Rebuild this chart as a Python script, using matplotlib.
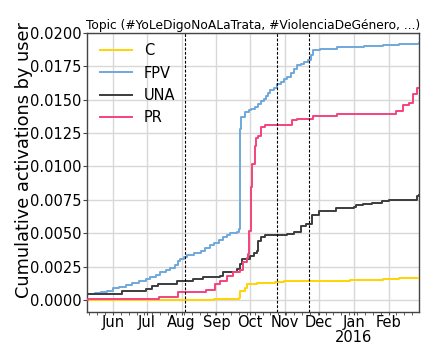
import matplotlib
matplotlib.use("Agg")
import matplotlib.pyplot as plt
import matplotlib.dates as mdates
import matplotlib.ticker as mticker
import pandas as pd

# ---- data ----
series_names = ["C", "FPV", "UNA", "PR"]
series_colors = ["#FFD400", "#6FA8DC", "#3C3C3C", "#F4437B"]

c_dates = ["2015-05-09", "2015-07-31", "2015-08-30", "2015-09-02", "2015-09-21", "2015-09-22",
           "2015-09-26", "2015-09-28", "2015-10-07", "2015-10-12", "2015-10-23", "2015-10-31",
           "2015-11-22", "2015-12-29", "2016-01-27", "2016-02-10", "2016-02-28"]
c_vals = [0.0, 0.00003, 0.00005, 0.0001, 0.00015, 0.0007,
          0.00088, 0.0012, 0.00125, 0.0013, 0.00137, 0.00142,
          0.00145, 0.00148, 0.00156, 0.00162, 0.00167]

fpv_dates = ["2015-05-09", "2015-05-16", "2015-05-21", "2015-05-27", "2015-06-01", "2015-06-06",
             "2015-06-13", "2015-06-18", "2015-06-24", "2015-06-30", "2015-07-04", "2015-07-09",
             "2015-07-13", "2015-07-18", "2015-07-22", "2015-07-26", "2015-07-29", "2015-07-31",
             "2015-08-03", "2015-08-06", "2015-08-12", "2015-08-18", "2015-08-22", "2015-08-26",
             "2015-08-30", "2015-09-03", "2015-09-07", "2015-09-10", "2015-09-13", "2015-09-19",
             "2015-09-21", "2015-09-22", "2015-09-23", "2015-09-26", "2015-09-30", "2015-10-02",
             "2015-10-05", "2015-10-08", "2015-10-11", "2015-10-13", "2015-10-15", "2015-10-17",
             "2015-10-19", "2015-10-22", "2015-10-25", "2015-10-28", "2015-10-31", "2015-11-03",
             "2015-11-06", "2015-11-09", "2015-11-12", "2015-11-15", "2015-11-18", "2015-11-21",
             "2015-11-24", "2015-11-26", "2015-12-02", "2015-12-17", "2015-12-29", "2016-01-10",
             "2016-01-27", "2016-02-10", "2016-02-28"]
fpv_vals = [0.00045, 0.0005, 0.00057, 0.0007, 0.0009, 0.001,
            0.00115, 0.00125, 0.0014, 0.0016, 0.00172, 0.0019,
            0.0021, 0.00225, 0.0024, 0.0026, 0.0029, 0.0031,
            0.0032, 0.00335, 0.0035, 0.0037, 0.0039, 0.0041,
            0.0043, 0.0045, 0.0047, 0.0049, 0.0050, 0.00507,
            0.00535, 0.0128, 0.0137, 0.01405, 0.0142, 0.01427,
            0.01445, 0.01465, 0.0149, 0.01508, 0.0153, 0.01547,
            0.0157, 0.0159, 0.0162, 0.01635, 0.01652, 0.0167,
            0.0170, 0.0173, 0.0176, 0.0177, 0.0178, 0.01795,
            0.01832, 0.0187, 0.01882, 0.01892, 0.01895, 0.019,
            0.01907, 0.01915, 0.01925]

una_dates = ["2015-05-09", "2015-06-09", "2015-06-30", "2015-07-06", "2015-07-11", "2015-07-28",
             "2015-08-11", "2015-08-20", "2015-09-04", "2015-09-07", "2015-09-19", "2015-09-22",
             "2015-09-24", "2015-10-01", "2015-10-04", "2015-10-07", "2015-10-08", "2015-10-11",
             "2015-10-14", "2015-11-03", "2015-11-09", "2015-11-15", "2015-11-20", "2015-11-23",
             "2015-11-25", "2015-12-01", "2015-12-14", "2015-12-16", "2016-01-01", "2016-01-03",
             "2016-01-09", "2016-01-17", "2016-01-26", "2016-02-01", "2016-02-26", "2016-02-28"]
una_vals = [0.00045, 0.00065, 0.00083, 0.00107, 0.00122, 0.00145,
            0.00155, 0.0017, 0.00182, 0.00207, 0.00232, 0.0027,
            0.00307, 0.00332, 0.00355, 0.0037, 0.00445, 0.0047,
            0.0049, 0.00495, 0.00507, 0.00557, 0.00567, 0.00572,
            0.0064, 0.00665, 0.0067, 0.0069, 0.00695, 0.00712,
            0.00718, 0.00727, 0.0074, 0.0075, 0.00782, 0.0079]

pr_dates = ["2015-05-09", "2015-05-10", "2015-07-12", "2015-07-29", "2015-08-23", "2015-08-31",
            "2015-09-04", "2015-09-10", "2015-09-16", "2015-09-22", "2015-09-25", "2015-09-28",
            "2015-09-29", "2015-09-30", "2015-10-02", "2015-10-03", "2015-10-05", "2015-10-06",
            "2015-10-08", "2015-10-11", "2015-10-14", "2015-11-07", "2015-11-12", "2015-11-26",
            "2015-12-17", "2016-02-08", "2016-02-14", "2016-02-19", "2016-02-23", "2016-02-26",
            "2016-02-28"]
pr_vals = [0.0, 0.0001, 0.00025, 0.0006, 0.00079, 0.0012,
           0.00145, 0.00182, 0.00207, 0.00227, 0.00282, 0.00317,
           0.00347, 0.0052, 0.00845, 0.0102, 0.01157, 0.01217,
           0.01225, 0.01295, 0.01312, 0.01345, 0.01357, 0.01375,
           0.01395, 0.01415, 0.01457, 0.01475, 0.01545, 0.01585,
           0.01585]

event_dates = ["2015-08-04", "2015-10-25", "2015-11-22"]

title_text = "Topic (#YoLeDigoNoALaTrata, #ViolenciaDeGénero, ...)"
y_label = "Cumulative activations by user"
x_start, x_end = "2015-05-09", "2016-02-28"
y_ticks = [0.0, 0.0025, 0.005, 0.0075, 0.01, 0.0125, 0.015, 0.0175, 0.02]

# ---- plot ----
plt.rcParams["font.family"] = ["DejaVu Sans"]
fig = plt.figure(figsize=(4.36, 3.63), dpi=100)
ax = fig.add_axes([87 / 436, 1 - 311.7 / 363, (419 - 87) / 436, (311.7 - 32.9) / 363])

all_series = [(c_dates, c_vals), (fpv_dates, fpv_vals), (una_dates, una_vals), (pr_dates, pr_vals)]
for (d, v), name, col in zip(all_series, series_names, series_colors):
    ax.step(pd.to_datetime(d), v, where="post", color=col, lw=1.4, label=name, zorder=3)

for d in event_dates:
    ax.axvline(pd.Timestamp(d), color="black", ls=(0, (2.5, 1.5)), lw=0.8, zorder=4)

ax.set_xlim(pd.Timestamp(x_start), pd.Timestamp(x_end))
ax.set_ylim(-0.00087, 0.0200)
ax.set_yticks(y_ticks)
ax.yaxis.set_major_formatter(mticker.FormatStrFormatter("%.4f"))

ax.xaxis.set_major_locator(mdates.MonthLocator())
def fmt(x, pos=None):
    d = mdates.num2date(x)
    return d.strftime("%b\n%Y") if d.month == 1 else d.strftime("%b")
ax.xaxis.set_major_formatter(mticker.FuncFormatter(fmt))
ax.xaxis.set_minor_locator(mdates.WeekdayLocator(byweekday=mdates.MO))

ax.grid(True, which="major", color="#d8d8d8", lw=1.0, zorder=0)
ax.set_axisbelow(True)
for s in ax.spines.values():
    s.set_color("#444444")
    s.set_linewidth(1.0)
ax.tick_params(axis="both", which="major", labelsize=10.5, color="#444444")
ax.tick_params(axis="x", which="major", length=2, pad=0.5)
ax.tick_params(axis="y", which="major", length=3, pad=1.2)
ax.tick_params(axis="x", which="minor", length=2, color="#444444")

ax.set_title(title_text, fontsize=8.8, pad=3)
ax.set_ylabel(y_label, fontsize=12.8)
ax.yaxis.set_label_coords(-0.164, 0.545)
ax.legend(loc="upper left", frameon=False, fontsize=10.5, handlelength=2.2,
          bbox_to_anchor=(0.0, 1.01), labelspacing=0.5)

fig.canvas.draw()
for lbl in ax.get_xticklabels():
    lbl.set_linespacing(1.0)

fig.savefig("out.png", dpi=100)
